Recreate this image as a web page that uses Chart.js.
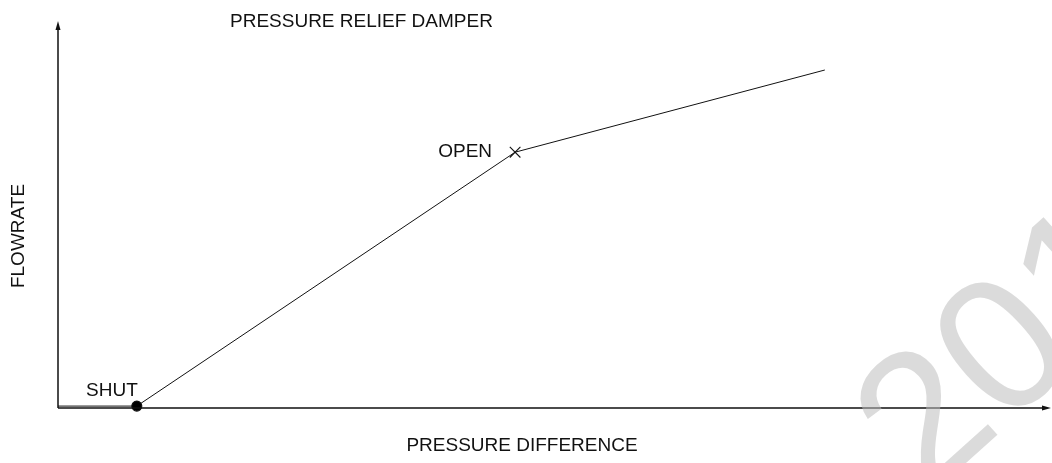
<!DOCTYPE html>
<html>
<head>
<meta charset="utf-8">
<script src="https://cdn.jsdelivr.net/npm/chart.js@4.4.1/dist/chart.umd.min.js"></script>
<style>
  html, body { margin: 0; padding: 0; background: #fff; }
  #wrap { width: 1052px; height: 463px; }
</style>
</head>
<body>
<div id="wrap"><canvas id="damperChart"></canvas></div>
<script>
// pressure difference vs flowrate (arbitrary units)
const pressure = [0, 10, 58, 97.3]
const flowrate = [0, 0, 66.1, 87.5]
const pointLabels = ['', 'SHUT', 'OPEN', '']
const pointStyles = [false, 'circle', 'crossRot', false]
const pointSizes = [0, 5, 7.5, 0]

const FONT = '19px "Liberation Sans", Arial, sans-serif'

const drawingPlugin = {
    id: 'drawing',
    afterDatasetsDraw(chart) {
        const ctx = chart.ctx
        const a = chart.chartArea
        ctx.save()
        // axes with arrow heads
        ctx.strokeStyle = '#111'
        ctx.fillStyle = '#111'
        ctx.lineWidth = 1.5
        ctx.beginPath()
        ctx.moveTo(a.left, a.bottom)
        ctx.lineTo(a.left, a.top + 6)
        ctx.moveTo(a.left, a.bottom)
        ctx.lineTo(a.right - 6, a.bottom)
        ctx.stroke()
        ctx.beginPath()
        ctx.moveTo(a.left, a.top - 1)
        ctx.lineTo(a.left - 2.5, a.top + 8)
        ctx.lineTo(a.left + 2.5, a.top + 8)
        ctx.closePath()
        ctx.fill()
        ctx.beginPath()
        ctx.moveTo(a.right, a.bottom)
        ctx.lineTo(a.right - 9, a.bottom - 2.5)
        ctx.lineTo(a.right - 9, a.bottom + 2.5)
        ctx.closePath()
        ctx.fill()

        // texts
        ctx.fillStyle = '#111'
        ctx.font = FONT
        ctx.textBaseline = 'middle'
        ctx.textAlign = 'left'
        ctx.fillText('PRESSURE RELIEF DAMPER', 230, 22)
        ctx.textAlign = 'center'
        ctx.fillText('PRESSURE DIFFERENCE', 522, 446)
        ctx.save()
        ctx.translate(19, 236)
        ctx.rotate(-Math.PI / 2)
        ctx.fillText('FLOWRATE', 0, 0)
        ctx.restore()

        // point labels
        const xs = chart.scales.x, ys = chart.scales.y
        ctx.textAlign = 'right'
        ctx.textBaseline = 'alphabetic'
        pointLabels.forEach((lbl, i) => {
            if (!lbl) return
            const px = xs.getPixelForValue(pressure[i])
            const py = ys.getPixelForValue(flowrate[i])
            if (lbl === 'SHUT') ctx.fillText(lbl, px + 1, py - 10)
            else ctx.fillText(lbl, px - 23, py + 5)
        })

        // watermark
        ctx.translate(926, 499)
        ctx.rotate(-42 * Math.PI / 180)
        ctx.font = '190px "Liberation Sans", Arial, sans-serif'
        ctx.textAlign = 'left'
        ctx.fillStyle = 'rgba(190,190,190,0.55)'
        ctx.fillText('2019', 0, 0)
        ctx.restore()
    }
}

new Chart(document.getElementById('damperChart'), {
    type: 'scatter',
    data: {
        datasets: [{
            data: pressure.map((p, i) => ({ x: p, y: flowrate[i] })),
            showLine: true,
            clip: false,
            borderColor: '#111',
            borderWidth: 1,
            backgroundColor: '#000',
            pointStyle: pointStyles,
            pointRadius: pointSizes,
            pointBorderColor: '#111',
            pointBorderWidth: 1.1,
            pointBackgroundColor: '#000',
            tension: 0
        }]
    },
    options: {
        responsive: true,
        maintainAspectRatio: false,
        animation: false,
        layout: { padding: { left: 58, right: 1, top: 22, bottom: 55 } },
        plugins: { legend: { display: false }, tooltip: { enabled: false } },
        scales: {
            x: { type: 'linear', min: 0, max: 126, display: false },
            y: { type: 'linear', min: -0.5, max: 100, display: false }
        }
    },
    plugins: [drawingPlugin]
})
</script>
</body>
</html>
